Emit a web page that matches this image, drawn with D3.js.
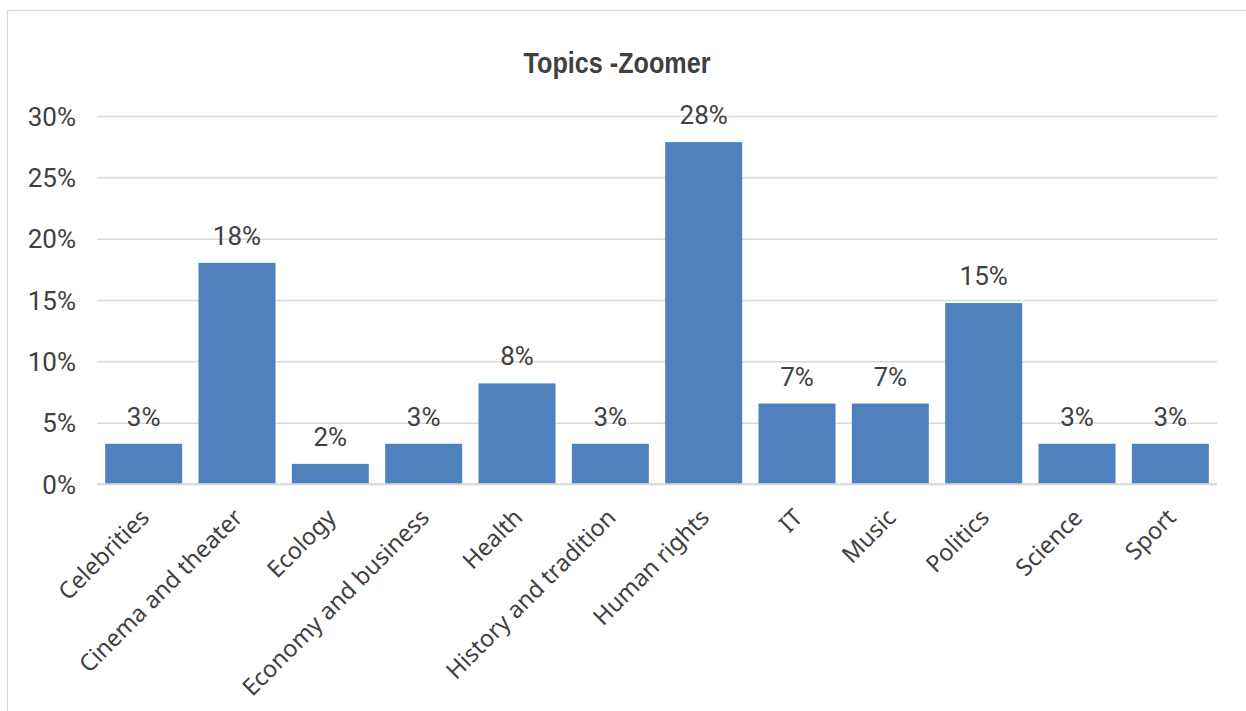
<!DOCTYPE html>
<html>
<head>
<meta charset="utf-8">
<script src="https://cdn.jsdelivr.net/npm/d3@7"></script>
<style>
  html, body { margin: 0; padding: 0; background: #fff; }
  svg { display: block; }
</style>
</head>
<body>
<svg id="chart" width="1246" height="711"></svg>
<script>
const categories = ["Celebrities", "Cinema and theater", "Ecology", "Economy and business", "Health",
  "History and tradition", "Human rights", "IT", "Music", "Politics", "Science", "Sport"];
const values = [0.0328, 0.1803, 0.0164, 0.0328, 0.0820, 0.0328, 0.2787, 0.0656, 0.0656, 0.1475, 0.0328, 0.0328];
const yTicks = [0, 0.05, 0.10, 0.15, 0.20, 0.25, 0.30];
const title = "Topics -Zoomer";

const svg = d3.select("#chart");
const m = { left: 97, right: 1217, top: 116, bottom: 484 };

// chart border
svg.append("rect").attr("x", 7.5).attr("y", 10.5).attr("width", 1260).attr("height", 720)
  .attr("fill", "#fff").attr("stroke", "#d9d9d9").attr("stroke-width", 1.2);

const x = d3.scaleBand().domain(categories).range([m.left, m.right]).paddingInner(0.175).paddingOuter(0.0875);
const y = d3.scaleLinear().domain([0, 0.30]).range([m.bottom, m.top]);

// grid + y axis
const yAxis = d3.axisLeft(y).tickValues(yTicks).tickFormat(d3.format(".0%")).tickSize(-(m.right - m.left)).tickPadding(21);
const gy = svg.append("g").attr("transform", `translate(${m.left},0)`).call(yAxis);
gy.select(".domain").remove();
gy.selectAll(".tick line").attr("stroke", "#d9d9d9").attr("stroke-width", 1.5);
gy.selectAll(".tick text").attr("fill", "#404040").style("font-family", "Roboto, sans-serif").style("font-size", "26px").attr("dy", "0.35em");

// bars
svg.append("g").selectAll("rect").data(values).join("rect")
  .attr("x", (d, i) => x(categories[i]))
  .attr("y", d => y(d))
  .attr("width", x.bandwidth())
  .attr("height", d => y(0) - y(d))
  .attr("fill", "#4f81bd");

// x baseline
svg.append("line").attr("x1", m.left).attr("x2", m.right).attr("y1", y(0)).attr("y2", y(0))
  .attr("stroke", "#d9d9d9").attr("stroke-width", 1.5);

// data labels
svg.append("g").selectAll("text").data(values).join("text")
  .attr("x", (d, i) => x(categories[i]) + x.bandwidth() / 2)
  .attr("y", d => y(d) - 18)
  .attr("text-anchor", "middle")
  .attr("fill", "#404040")
  .style("font-family", "Roboto, sans-serif").style("font-size", "26px")
  .text(d => d3.format(".0%")(d));

// x axis labels
const xAxis = d3.axisBottom(x).tickSize(0).tickPadding(0);
const gx = svg.append("g").attr("transform", `translate(0,${m.bottom})`).call(xAxis);
gx.select(".domain").remove();
gx.selectAll(".tick text")
  .attr("fill", "#404040")
  .style("font-family", "'Noto Sans', 'Open Sans', sans-serif").style("font-size", "23.5px")
  .attr("text-anchor", "end")
  .attr("x", 0).attr("y", 0).attr("dy", 0)
  .attr("transform", "translate(7,35) rotate(-45)");

// title
svg.append("text").attr("x", 617).attr("y", 73).attr("text-anchor", "middle")
  .attr("fill", "#404040")
  .style("font-family", "'Liberation Sans Narrow', 'Arial Narrow', 'Liberation Sans', sans-serif")
  .style("font-weight", "bold").style("font-size", "30px")
  .attr("textLength", 187).attr("lengthAdjust", "spacingAndGlyphs")
  .text(title);
</script>
</body>
</html>
